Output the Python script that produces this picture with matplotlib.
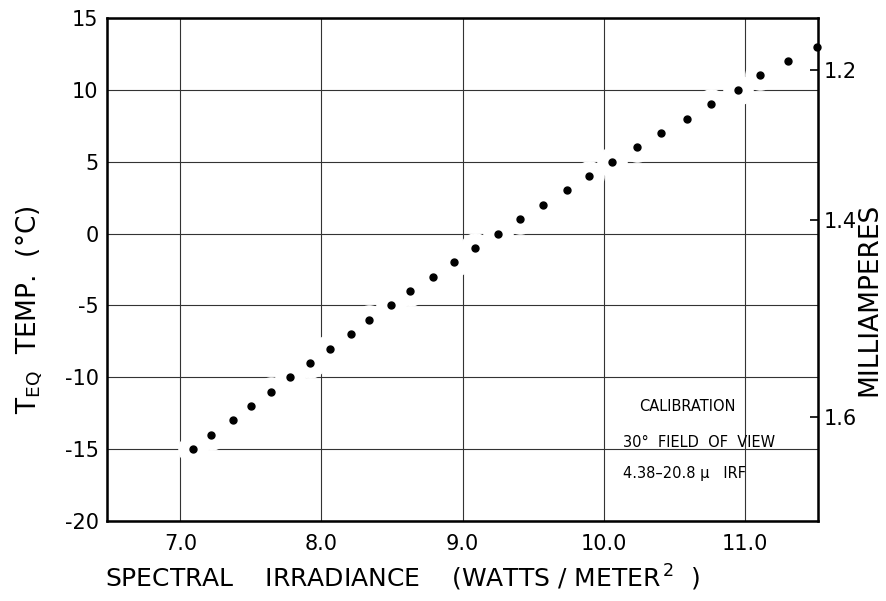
import matplotlib
matplotlib.use("Agg")
import matplotlib.pyplot as plt

# DONNÉES

# température d'équilibre (°C), un point par degré
temp_c = [-15, -14, -13, -12, -11, -10, -9, -8, -7, -6, -5, -4, -3, -2, -1,
          0, 1, 2, 3, 4, 5, 6, 7, 8, 9, 10, 11, 12, 13]
# éclairement spectral (W/m²)
irradiance = [7.09, 7.22, 7.37, 7.50, 7.64, 7.78, 7.92, 8.06, 8.21, 8.34,
              8.49, 8.63, 8.79, 8.94, 9.09, 9.25, 9.41, 9.57, 9.74, 9.90,
              10.06, 10.24, 10.41, 10.59, 10.76, 10.95, 11.11, 11.31, 11.51]

x_ticks = [7.0, 8.0, 9.0, 10.0, 11.0]
y_ticks = [15, 10, 5, 0, -5, -10, -15, -20]

# échelle de droite (non linéaire) : milliampères et température correspondante
ma_labels = ["1.2", "1.4", "1.6"]
ma_temp = [11.4, 0.95, -12.75]

note_lines = ["CALIBRATION", "30°  FIELD  OF  VIEW", "4.38–20.8 μ   IRF"]

# FIGURE

plt.rcParams["font.family"] = ["DejaVu Sans"]
plt.rcParams["axes.unicode_minus"] = False
plt.rcParams["mathtext.fontset"] = "dejavusans"

fig = plt.figure(figsize=(8.86, 6.01), dpi=100)
ax = fig.add_axes([107 / 886, 1 - 521 / 601, 711 / 886, 503 / 601])

ax.set_xlim(6.48, 11.52)
ax.set_ylim(-20, 15)
ax.set_xticks(x_ticks)
ax.set_xticklabels([f"{v:.1f}" for v in x_ticks])
ax.set_yticks(y_ticks)
ax.set_yticklabels([str(v) for v in y_ticks])
ax.tick_params(axis="both", length=0, labelsize=15)
ax.tick_params(axis="x", pad=9)
ax.tick_params(axis="y", pad=6)

ax.grid(True, color="#333333", linewidth=0.8, zorder=0)
ax.set_axisbelow(True)
for side in ["left", "bottom", "top", "right"]:
    ax.spines[side].set_linewidth(1.8)
    ax.spines[side].set_color("black")

# halos blancs : coupent la grille autour des points
ax.plot(irradiance, temp_c, "o", color="white", markersize=21,
        linestyle="none", zorder=2)
ax.plot(irradiance, temp_c, "o", color="black", markersize=5,
        linestyle="none", zorder=3, clip_on=False)

ax.text(0.415, -0.113, "SPECTRAL    IRRADIANCE    (WATTS / METER$^{\\,2}$  )",
        transform=ax.transAxes, ha="center", va="center", fontsize=18)
ax.text(-0.108, 0.42, "T$_{\\mathrm{EQ}}$  TEMP.  (°C)", transform=ax.transAxes,
        ha="center", va="center", rotation=90, fontsize=19)

# axe de droite
ax2 = ax.twinx()
ax2.set_ylim(ax.get_ylim())
ax2.set_yticks(ma_temp)
ax2.set_yticklabels(ma_labels)
ax2.tick_params(axis="y", direction="in", length=6, width=1.2, pad=4,
                labelsize=15)
ax2.text(1.072, 0.44, "MILLIAMPERES", transform=ax.transAxes,
         ha="center", va="center", rotation=90, fontsize=19)

# encart calibration
ax.text(0.816, 0.227, note_lines[0], transform=ax.transAxes,
        ha="center", va="center", fontsize=10.5)
ax.text(0.726, 0.157, note_lines[1], transform=ax.transAxes,
        ha="left", va="center", fontsize=10.5)
ax.text(0.726, 0.095, note_lines[2], transform=ax.transAxes,
        ha="left", va="center", fontsize=10.5)

fig.savefig("out.png", dpi=100)
